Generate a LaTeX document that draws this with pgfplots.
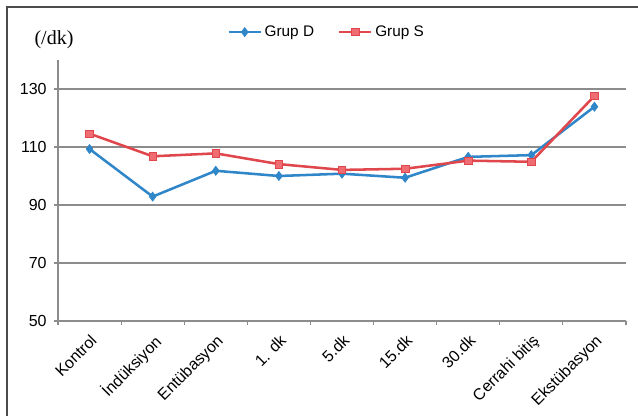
\documentclass[border=0pt]{standalone}
\usepackage{pgfplots}
\pgfplotsset{compat=1.18}
\usepackage{fontspec}
\setmainfont{Liberation Sans}
\newfontfamily\serifcm{Liberation Serif}
\definecolor{grupD}{HTML}{2F86C8}
\definecolor{grupS}{HTML}{E0474C}
\definecolor{grupSfill}{HTML}{EE6C72}
\definecolor{gridg}{HTML}{8C8C8C}
\begin{document}
\begin{tikzpicture}
\useasboundingbox (-43.5pt,-70.5pt) rectangle (435pt,240.75pt);
\draw[color=black!70, line width=1.1pt] (-38.25pt,-80pt) -- (-38.25pt,235.5pt) -- (440pt,235.5pt);
\begin{axis}[
  at={(0,0)}, anchor=south west,
  scale only axis,
  width=426pt, height=195.75pt,
  xmin=-0.5, xmax=8.5,
  ymin=50, ymax=140,
  ytick={50,70,90,110,130},
  xtick={0,...,8},
  xticklabels={Kontrol,İndüksiyon,Entübasyon,1. dk,5.dk,15.dk,30.dk,Cerrahi bitiş,Ekstübasyon},
  minor xtick={-0.5,0.5,...,8.5},
  axis lines=left,
  axis line style={gridg, line width=0.8pt, -},
  tick align=outside,
  tick style={gridg, line width=0.8pt},
  major tick length=3pt,
  minor tick length=3pt,
  major x tick style={draw=none},
  ymajorgrids,
  grid style={gridg, line width=0.8pt},
  /pgf/number format/assume math mode=true,
  tick label style={font=\fontsize{12}{14}\selectfont, color=black},
  yticklabel style={xshift=-2pt},
  xticklabel style={rotate=45, anchor=north east, xshift=-1pt, yshift=-1pt},
  legend style={at={(0.4736,1.107)}, anchor=center, draw=none, fill=none,
    legend columns=2, font=\fontsize{11.5}{13}\selectfont,
    /tikz/every even column/.append style={column sep=16pt}},
  legend image code/.code={\draw[#1] (0pt,0pt) -- (24pt,0pt); \draw[#1, only marks] plot coordinates {(12pt,0pt)};},
  clip=false,
]
\addplot[color=grupD, line width=1.9pt, mark=diamond*, mark size=3.4pt, mark options={fill=grupD, line width=0.5pt}]
  coordinates {(0,109.3) (1,92.9) (2,101.8) (3,100.0) (4,100.8) (5,99.4) (6,106.6) (7,107.2) (8,123.9)};
\addlegendentry{Grup D}
\addplot[color=grupS, line width=1.9pt, mark=square*, mark size=2.8pt, mark options={fill=grupSfill, line width=0.5pt}]
  coordinates {(0,114.6) (1,106.8) (2,107.8) (3,104.1) (4,102.1) (5,102.5) (6,105.3) (7,104.9) (8,127.6)};
\addlegendentry{Grup S}
\end{axis}
\node[font=\serifcm\fontsize{15}{17}\selectfont] at (-3pt,210.75pt) {(/dk)};
\end{tikzpicture}
\end{document}
